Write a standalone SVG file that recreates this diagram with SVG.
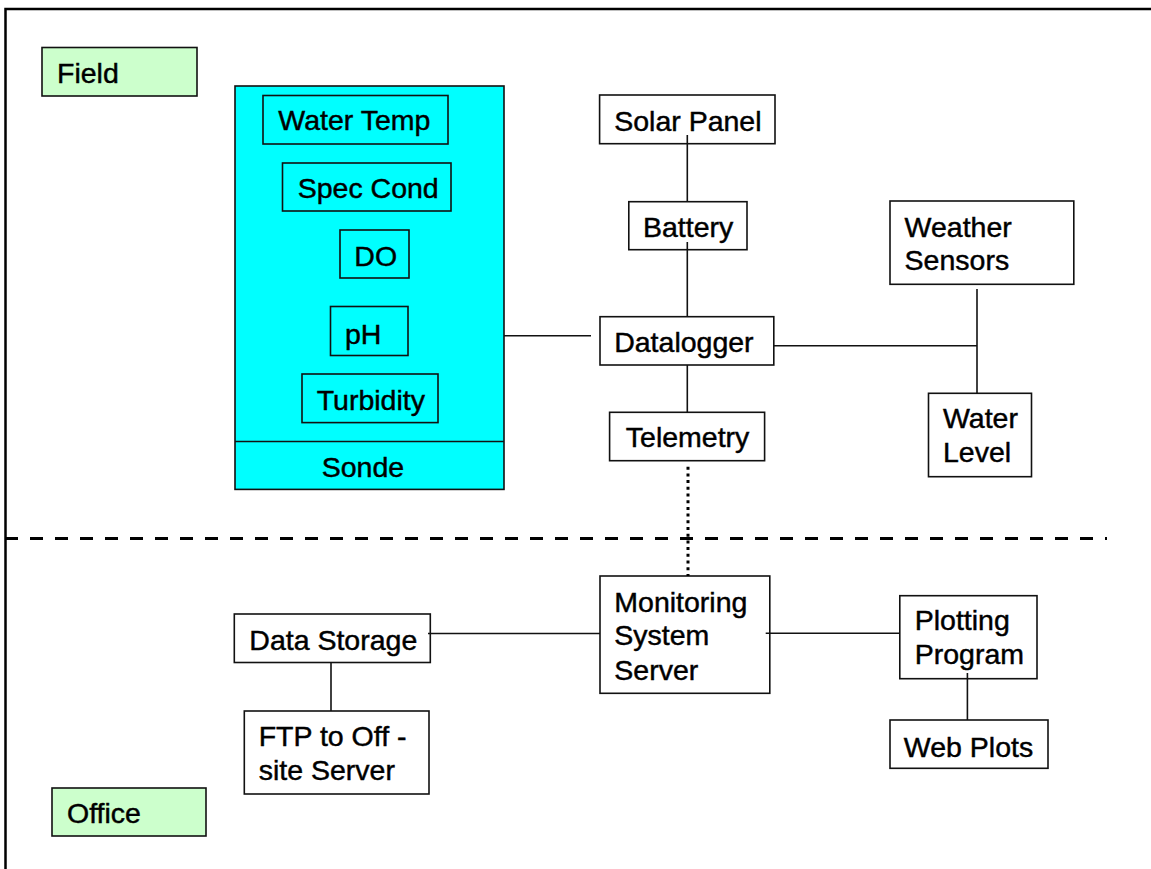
<svg xmlns="http://www.w3.org/2000/svg" width="1151" height="869" viewBox="0 0 1151 869">
<style>
.bx{fill:#fff;stroke:#111;stroke-width:1.6}
.lbl{fill:#ccffcc;stroke:#111;stroke-width:1.6}
.son{fill:#00ffff;stroke:#111;stroke-width:1.6}
.t{font-family:"Liberation Sans",Arial,sans-serif;font-size:28.5px;fill:#000;stroke:#000;stroke-width:0.45}
.c{stroke:#111;stroke-width:1.6;fill:none}
</style>
<rect width="1151" height="869" fill="#fff"/>
<path d="M5.5,869 V9 H1151" fill="none" stroke="#000" stroke-width="2.5"/>
<line x1="5" y1="538.5" x2="1107" y2="538.5" stroke="#000" stroke-width="3" stroke-dasharray="13 12"/>

<g id="field"><rect class="lbl" x="42" y="47.5" width="155" height="48.5"/><text class="t" x="57" y="83">Field</text></g>
<g id="office"><rect class="lbl" x="52" y="788" width="154" height="48"/><text class="t" x="67" y="822.5">Office</text></g>

<g id="sonde">
<rect class="son" x="235" y="86" width="269" height="403.4"/>
<line class="c" x1="235" y1="441.5" x2="504" y2="441.5"/>
<text class="t" x="321.7" y="477">Sonde</text>
</g>
<g id="water-temp"><rect class="son" x="263" y="95.5" width="185" height="48.5"/><text class="t" x="278.3" y="130">Water Temp</text></g>
<g id="spec-cond"><rect class="son" x="282.5" y="163" width="168.5" height="48"/><text class="t" x="297.7" y="198.3">Spec Cond</text></g>
<g id="do"><rect class="son" x="340" y="230" width="69" height="48"/><text class="t" x="354.3" y="265.7">DO</text></g>
<g id="ph"><rect class="son" x="330.5" y="306.5" width="77.5" height="49"/><text class="t" x="345" y="343.5">pH</text></g>
<g id="turbidity"><rect class="son" x="302" y="374" width="136" height="48.6"/><text class="t" x="316.7" y="410">Turbidity</text></g>

<g id="solar-panel"><rect class="bx" x="599.6" y="95" width="175.4" height="48.7"/><text class="t" x="614.2" y="131">Solar Panel</text></g>
<g id="battery"><rect class="bx" x="628.8" y="201.7" width="118.2" height="48"/><text class="t" x="643" y="236.7">Battery</text></g>
<g id="datalogger"><rect class="bx" x="600" y="316.7" width="173.8" height="48.3"/><text class="t" x="614.2" y="351.7">Datalogger</text></g>
<g id="telemetry"><rect class="bx" x="609.6" y="412.3" width="155" height="48.4"/><text class="t" x="625.8" y="446.7">Telemetry</text></g>
<g id="weather-sensors"><rect class="bx" x="890" y="201" width="183.8" height="83.3"/><text class="t" x="904.6" y="236.7">Weather</text><text class="t" x="904.6" y="270">Sensors</text></g>
<g id="water-level"><rect class="bx" x="928.5" y="393.3" width="103" height="83.4"/><text class="t" x="943" y="428.3">Water</text><text class="t" x="943" y="462.3">Level</text></g>

<g id="monitoring-server"><rect class="bx" x="600" y="576" width="169.8" height="117.3"/><text class="t" x="614.3" y="611.7">Monitoring</text><text class="t" x="614.3" y="645">System</text><text class="t" x="614.3" y="680">Server</text></g>
<g id="data-storage"><rect class="bx" x="234.3" y="614" width="196" height="48.5"/><text class="t" x="249.3" y="650">Data Storage</text></g>
<g id="ftp"><rect class="bx" x="244.3" y="711" width="184.7" height="83"/><text class="t" x="258.7" y="745.6">FTP to Off -</text><text class="t" x="258.7" y="779.7">site Server</text></g>
<g id="plotting-program"><rect class="bx" x="899.8" y="595.7" width="137.2" height="83"/><text class="t" x="914.7" y="630">Plotting</text><text class="t" x="914.7" y="664">Program</text></g>
<g id="web-plots"><rect class="bx" x="890" y="720" width="158" height="48.3"/><text class="t" x="903.8" y="756.7">Web Plots</text></g>

<g id="connectors">
<line class="c" x1="504" y1="335.7" x2="591" y2="335.7"/>
<line class="c" x1="687.3" y1="135" x2="687.3" y2="202"/>
<line class="c" x1="687.3" y1="242" x2="687.3" y2="317"/>
<line class="c" x1="687.3" y1="365" x2="687.3" y2="412.3"/>
<line class="c" x1="773.8" y1="345.7" x2="977" y2="345.7"/>
<line class="c" x1="977" y1="289" x2="977" y2="393.3"/>
<line x1="688" y1="466.7" x2="688" y2="576" stroke="#000" stroke-width="3" stroke-dasharray="3 3.7"/>
<line class="c" x1="428" y1="633.5" x2="600" y2="633.5"/>
<line class="c" x1="765.7" y1="633.3" x2="899.8" y2="633.3"/>
<line class="c" x1="331" y1="662.5" x2="331" y2="711"/>
<line class="c" x1="967.4" y1="673" x2="967.4" y2="720"/>
</g>
</svg>
